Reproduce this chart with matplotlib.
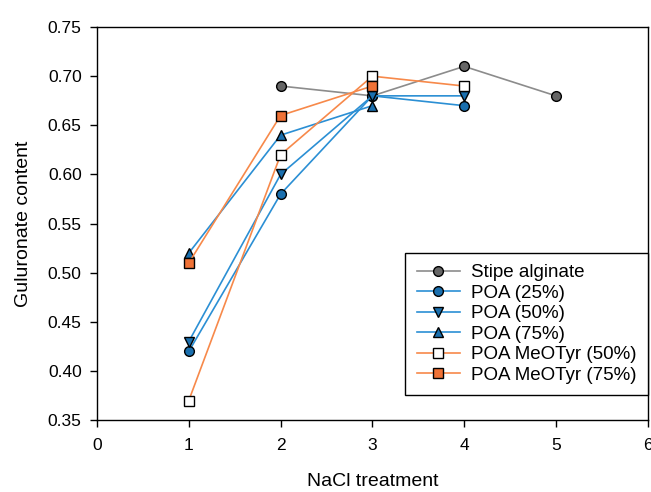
import matplotlib
matplotlib.use('Agg')
import matplotlib.pyplot as plt

plt.rcParams['font.family'] = ['Liberation Sans', 'DejaVu Sans']

# data
stipe_x = [2, 3, 4, 5]
stipe_y = [0.69, 0.68, 0.71, 0.68]

poa25_x = [1, 2, 3, 4]
poa25_y = [0.42, 0.58, 0.68, 0.67]

poa50_x = [1, 2, 3, 4]
poa50_y = [0.43, 0.60, 0.68, 0.68]

poa75_x = [1, 2, 3]
poa75_y = [0.52, 0.64, 0.67]

meo50_x = [1, 2, 3, 4]
meo50_y = [0.37, 0.62, 0.70, 0.69]

meo75_x = [1, 2, 3]
meo75_y = [0.51, 0.66, 0.69]

xticks = [0, 1, 2, 3, 4, 5, 6]
yticks = [0.35, 0.40, 0.45, 0.50, 0.55, 0.60, 0.65, 0.70, 0.75]

gray_line = '#8c8c8c'
gray_face = '#666666'
blue_line = '#2b8fd4'
blue_face = '#1a6fae'
orange_line = '#f7894a'
orange_face = '#f07236'

fig = plt.figure(figsize=(6.51, 4.92), dpi=100)
ax = fig.add_axes([0.149, 0.146, 0.846, 0.799])

ms = 7
ax.plot(stipe_x, stipe_y, color=gray_line, lw=1.2, marker='o', ms=ms,
        mfc=gray_face, mec='black', mew=1, label='Stipe alginate', zorder=3)
ax.plot(poa25_x, poa25_y, color=blue_line, lw=1.2, marker='o', ms=ms,
        mfc=blue_face, mec='black', mew=1, label='POA (25%)', zorder=4)
ax.plot(poa75_x, poa75_y, color=blue_line, lw=1.2, marker='^', ms=ms,
        mfc=blue_face, mec='black', mew=1, label='POA (75%)', zorder=4)
ax.plot(poa50_x, poa50_y, color=blue_line, lw=1.2, marker='v', ms=ms,
        mfc=blue_face, mec='black', mew=1, label='POA (50%)', zorder=5)
ax.plot(meo50_x, meo50_y, color=orange_line, lw=1.2, marker='s', ms=ms,
        mfc='white', mec='black', mew=1, label='POA MeOTyr (50%)', zorder=6)
ax.plot(meo75_x, meo75_y, color=orange_line, lw=1.2, marker='s', ms=ms,
        mfc=orange_face, mec='black', mew=1, label='POA MeOTyr (75%)', zorder=7)

ax.set_xlim(0, 6)
ax.set_ylim(0.35, 0.75)
ax.set_xticks(xticks)
ax.set_yticks(yticks)
ax.set_yticklabels(['%.2f' % v for v in yticks])
ax.tick_params(direction='out', length=5, width=1, labelsize=12.5, colors='black')
ax.tick_params(axis='x', pad=8)
ax.tick_params(axis='y', pad=6)
ax.tick_params(top=False, right=False)
for s in ax.spines.values():
    s.set_linewidth(1)

ax.set_xlabel('NaCl treatment', fontsize=14, labelpad=14)
ax.set_ylabel('Guluronate content', fontsize=14, labelpad=11)

handles, labels = ax.get_legend_handles_labels()
order = ['Stipe alginate', 'POA (25%)', 'POA (50%)', 'POA (75%)',
         'POA MeOTyr (50%)', 'POA MeOTyr (75%)']
hmap = dict(zip(labels, handles))
leg = ax.legend([hmap[k] for k in order], order, loc='lower right',
                bbox_to_anchor=(1.0, 0.064), borderaxespad=0, fontsize=13.5,
                frameon=True, fancybox=False, edgecolor='black', framealpha=1,
                handlelength=2.3, labelspacing=0.18, borderpad=0.6,
                handletextpad=0.6)
leg.get_frame().set_linewidth(1)

fig.savefig('out.png', dpi=100)
